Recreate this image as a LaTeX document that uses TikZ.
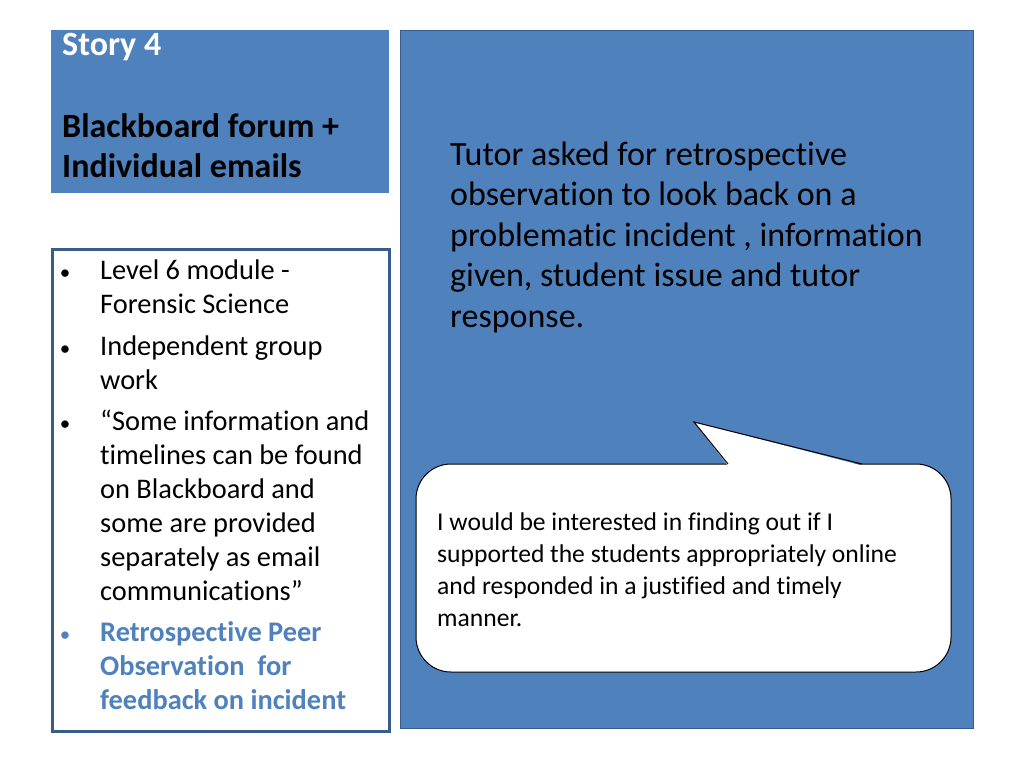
\documentclass[tikz,border=0pt]{standalone}
\usepackage{fontspec}
\setmainfont{Carlito}[Ligatures=NoCommon]
\usepackage{tikz}
\usetikzlibrary{positioning}
\definecolor{Slate}{RGB}{79,129,189}
\definecolor{SlateDark}{RGB}{56,93,138}
\tikzset{
every picture/.style={x=1pt, y=-1pt},
bluebox/.style={rectangle, draw=SlateDark, fill=Slate, line width=1pt, anchor=north west, inner sep=0pt},
listbox/.style={rectangle, draw=SlateDark, fill=white, line width=2.5pt, anchor=north west, inner sep=0pt},
balloon/.style={rectangle, rounded corners=35pt, draw=black, fill=white, line width=1pt, inner sep=0pt},
bigtext/.style={anchor=base west, inner sep=0pt, text width=500pt, align=flush left, font=\fontsize{34}{40.5}\selectfont},
itemtext/.style={anchor=base west, inner sep=0pt, text width=285pt, align=flush left, font=\fontsize{28.4}{34}\selectfont},
dot/.style={anchor=base, inner sep=0pt, font=\fontsize{21}{34}\selectfont},
notetext/.style={anchor=base west, inner sep=0pt, text width=510pt, align=flush left, font=\fontsize{25.6}{32}\selectfont}
}

\begin{document}
\begin{tikzpicture}
\useasboundingbox (0,0) rectangle (1024,768);
\fill[white] (0,0) rectangle (1024,768);

%Boxes
\node [bluebox, draw=Slate, minimum width=337pt, minimum height=162pt] (title) at (51,30) {};
\node [bluebox, minimum width=573pt, minimum height=698pt] (panel) at (400,30) {};
\node [listbox, minimum width=337pt, minimum height=482pt] (list) at (51,248) {};
\node [balloon, minimum width=535pt, minimum height=208pt] (note) at (683.5,568) {};

%Balloon tail
\coordinate (tailL) at (728,464);
\coordinate (tip) at (694,422);
\coordinate (tailR) at (862,464);
\fill[white] ([yshift=-1.5pt]tailL) -- (tip) -- ([yshift=-1.5pt]tailR) -- cycle;
\draw[line width=1pt] (tailL) -- (tip) -- (tailR);

%Title
\node [bigtext, text width=320pt, text=white, font=\fontsize{34}{40}\selectfont\bfseries] (story) at (62,56) {Story 4};
\node [bigtext, text width=320pt, font=\fontsize{34}{40}\selectfont\bfseries] (forum) at (62,137) {Blackboard forum +\\Individual emails};

%Tutor text
\node [bigtext] (tutor) at (450,165) {Tutor asked for retrospective\\observation to look back on a\\problematic incident , information\\given, student issue and tutor\\response.};

%List
\node [itemtext] (level) at (100,279) {Level 6 module -\\Forensic Science};
\node [itemtext] (group) at (100,355) {Independent group\\work};
\node [itemtext] (quote) at (100,430) {``Some information and\\timelines can be found\\on Blackboard and\\some are provided\\separately as email\\communications''};
\node [itemtext, text=Slate, font=\fontsize{28.4}{34}\selectfont\bfseries] (peer) at (100,641) {Retrospective Peer\\Observation~~for\\feedback on incident};
\node [dot] (b1) at (65,279) {\textbullet};
\node [dot] (b2) at (65,355) {\textbullet};
\node [dot] (b3) at (65,430) {\textbullet};
\node [dot, text=Slate] (b4) at (65,641) {\textbullet};

%Balloon text
\node [notetext] (wonder) at (437,530) {I would be interested in finding out if I\\supported the students appropriately online\\and responded in a justified and timely\\manner.};

\end{tikzpicture}
\end{document}
